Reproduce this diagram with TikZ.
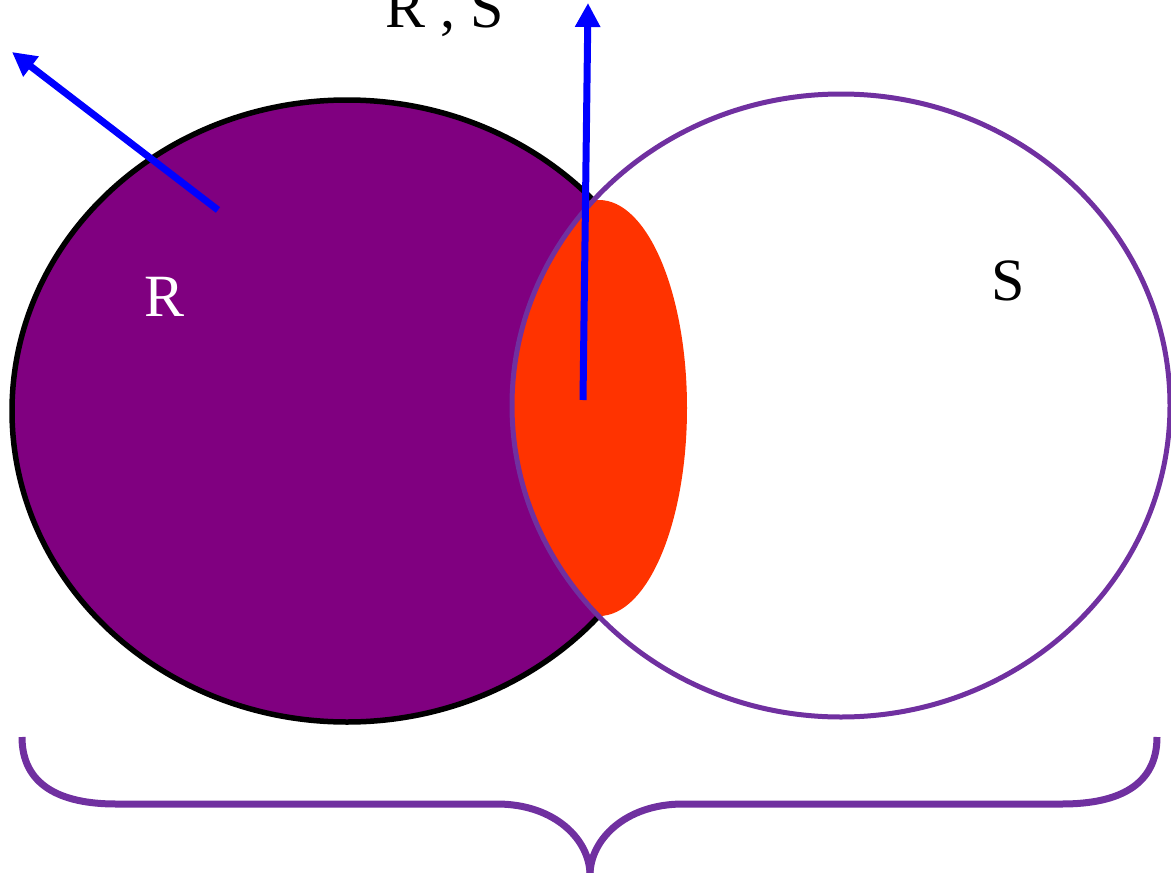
\documentclass[tikz,border=0pt]{standalone}
\usepackage{fontspec}
\setmainfont{Liberation Serif}
\usetikzlibrary{arrows.meta}
\definecolor{rfill}{HTML}{800080}
\definecolor{spurple}{HTML}{7030A0}
\definecolor{lens}{HTML}{FF3300}
\definecolor{arrowblue}{HTML}{0000FF}
\tikzset{
  bluearrow/.style={draw=arrowblue, line width=7pt, -{Triangle[length=24pt,width=24pt]}},
  label/.style={font=\fontsize{60}{60}\selectfont, inner sep=0pt},
  brace/.style={draw=spurple, line width=7pt, line cap=butt}
}
\begin{document}
\begin{tikzpicture}[x=1pt,y=-1pt]
\useasboundingbox (0,0) rectangle (1171,873);
% R set
\fill[rfill] (347,411) ellipse [x radius=335, y radius=311];
\draw[black, line width=5.5pt] (347,411) ellipse [x radius=335, y radius=311];
% intersection lens
\begin{scope}
  \clip (841,405.5) ellipse [x radius=329, y radius=311.5];
  \fill[lens] (599,408) ellipse [x radius=88, y radius=208];
\end{scope}
% S set outline
\draw[spurple, line width=5pt] (841,405.5) ellipse [x radius=329, y radius=311.5];
% labels
\node[label, text=white] (rlab) at (165,297) {R};
\node[label, text=black] (slab) at (1008,281) {S};
\node[label, text=black, anchor=base] (rslab) at (445,27) {R , S};
% arrows
\coordinate (a1s) at (218,210);
\coordinate (a1e) at (12,52);
\coordinate (a2s) at (583,400);
\coordinate (a2e) at (588,3);
\draw[bluearrow] (a1s) -- (a1e);
\draw[bluearrow] (a2s) -- (a2e);
% brace
\coordinate (bl) at (22,737);
\coordinate (br) at (1157,737);
\coordinate (bm) at (590,875);
\draw[brace] (bl) .. controls (22,785) and (60,804) .. (116,804)
  -- (497,804) .. controls (555,804) and (590,840) .. (bm);
\draw[brace] (br) .. controls (1157,785) and (1119,804) .. (1062,804)
  -- (683,804) .. controls (625,804) and (590,840) .. (bm);
\end{tikzpicture}
\end{document}
